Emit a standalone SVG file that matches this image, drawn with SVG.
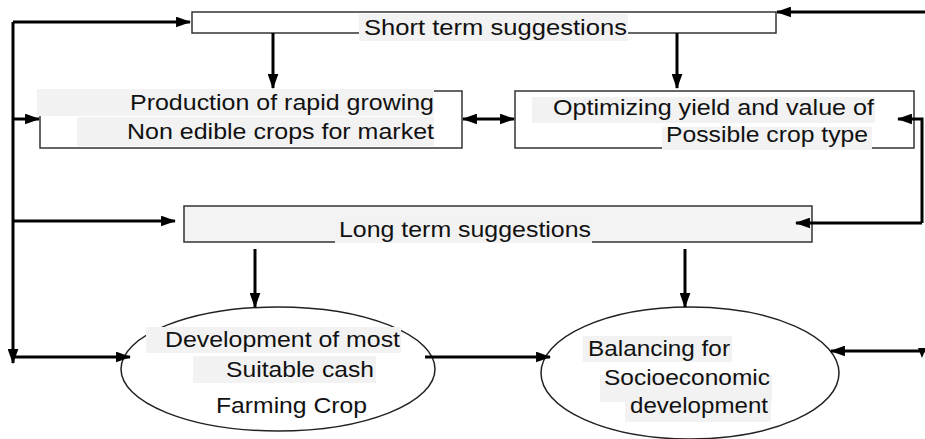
<svg xmlns="http://www.w3.org/2000/svg" width="925" height="439" viewBox="0 0 925 439">
<style>
.box{fill:#fff;stroke:#333;stroke-width:1.5}
.lbox{fill:#f4f4f4;stroke:#333;stroke-width:1.5}
.ell{fill:#fff;stroke:#222;stroke-width:1.5}
.bg{fill:#f2f2f2}
.t{font-family:"Liberation Sans",Arial,sans-serif;font-size:22px;fill:#111}
.c{fill:none;stroke:#000;stroke-width:3}
</style>
<defs>
<marker id="ah" viewBox="0 0 14 10" refX="13" refY="5" markerWidth="15" markerHeight="11" orient="auto-start-reverse" markerUnits="userSpaceOnUse">
<path d="M0,0 L14,5 L0,10 Z" fill="#000"/>
</marker>
</defs>
<rect width="925" height="439" fill="#fff"/>
<g id="short-term">
<rect class="box" x="192" y="12" width="584" height="21"/>
<rect class="bg" x="359" y="14" width="269" height="27"/>
<text class="t" x="364" y="35" textLength="263" lengthAdjust="spacingAndGlyphs">Short  term suggestions</text>
</g>
<g id="production">
<rect class="box" x="40" y="91" width="422" height="57"/>
<rect class="bg" x="37" y="89" width="397" height="27"/>
<rect class="bg" x="77" y="117" width="357" height="29"/>
<text class="t" x="130" y="110" textLength="304" lengthAdjust="spacingAndGlyphs">Production of rapid growing</text>
<text class="t" x="127" y="139" textLength="307" lengthAdjust="spacingAndGlyphs">Non edible crops for market</text>
</g>
<g id="optimizing">
<rect class="box" x="515" y="91" width="399" height="57"/>
<rect class="bg" x="532" y="97" width="343" height="26"/>
<rect class="bg" x="662" y="127" width="210" height="23"/>
<text class="t" x="553" y="115" textLength="321" lengthAdjust="spacingAndGlyphs">Optimizing yield and value of</text>
<text class="t" x="666" y="142" textLength="202" lengthAdjust="spacingAndGlyphs">Possible crop type</text>
</g>
<g id="long-term">
<rect class="lbox" x="184" y="206" width="628" height="36"/>
<rect class="bg" x="335" y="217" width="257" height="26"/>
<text class="t" x="339" y="237" textLength="252" lengthAdjust="spacingAndGlyphs">Long term suggestions</text>
</g>
<g id="cash-crop">
<ellipse class="ell" cx="278" cy="369" rx="157" ry="62"/>
<rect class="bg" x="146" y="327" width="255" height="26"/>
<rect class="bg" x="193" y="356" width="183" height="27"/>
<text class="t" x="165" y="347" textLength="235" lengthAdjust="spacingAndGlyphs">Development of most</text>
<text class="t" x="226" y="377" textLength="148" lengthAdjust="spacingAndGlyphs">Suitable cash</text>
<text class="t" x="216" y="413" textLength="151" lengthAdjust="spacingAndGlyphs">Farming Crop</text>
</g>
<g id="balancing">
<ellipse class="ell" cx="690" cy="373" rx="149" ry="66"/>
<rect class="bg" x="583" y="336" width="149" height="26"/>
<rect class="bg" x="600" y="375" width="172" height="27"/>
<rect class="bg" x="625" y="400" width="146" height="22"/>
<text class="t" x="588" y="356" textLength="142" lengthAdjust="spacingAndGlyphs">Balancing for</text>
<text class="t" x="604" y="385" textLength="166" lengthAdjust="spacingAndGlyphs">Socioeconomic</text>
<text class="t" x="630" y="413" textLength="138" lengthAdjust="spacingAndGlyphs">development</text>
</g>
<g id="connectors">
<path class="c" d="M13,22 V363" marker-end="url(#ah)"/>
<path class="c" d="M13,22 H190" marker-end="url(#ah)"/>
<path class="c" d="M13,119 H39" marker-end="url(#ah)"/>
<path class="c" d="M13,221 H175" marker-end="url(#ah)"/>
<path class="c" d="M13,357 H130" marker-end="url(#ah)"/>
<path class="c" d="M925,12 H777" marker-end="url(#ah)"/>
<path class="c" d="M273,33 V88" marker-end="url(#ah)"/>
<path class="c" d="M677,33 V88" marker-end="url(#ah)"/>
<path class="c" d="M463,119 H514" marker-start="url(#ah)" marker-end="url(#ah)"/>
<path class="c" d="M922,223 V119 H898" marker-end="url(#ah)"/>
<path class="c" d="M922,223 H796" marker-end="url(#ah)"/>
<path class="c" d="M255,249 V307" marker-end="url(#ah)"/>
<path class="c" d="M685,249 V307" marker-end="url(#ah)"/>
<path class="c" d="M425,357 H550" marker-end="url(#ah)"/>
<path class="c" d="M925,351 H831" marker-end="url(#ah)"/>
<path d="M918,348 L926,348 L922,358 Z" fill="#000"/>
</g>
</svg>
